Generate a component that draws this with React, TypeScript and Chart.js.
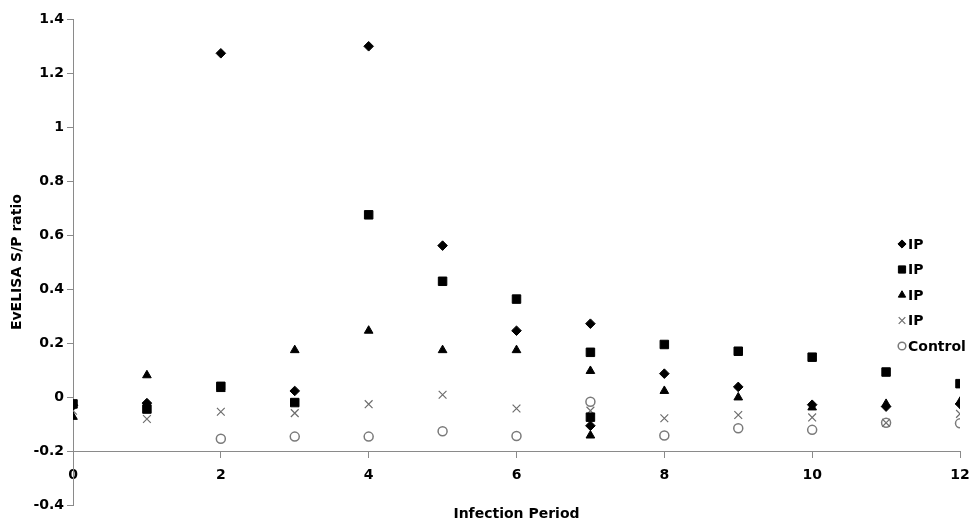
import React, { useEffect, useRef } from 'react';
import { Chart, registerables } from 'chart.js';
import { drawPoint } from 'chart.js/helpers';

Chart.register(...registerables);

// Infection period (days) and EvELISA S/P ratios
const days = [0, 1, 2, 3, 4, 5, 6, 7, 8, 9, 10, 11, 12];
const ip1Values = [-0.03, -0.022, 1.273, 0.023, 1.299, 0.561, 0.246, 0.272, 0.087, 0.038, -0.028, -0.035, -0.025];
const ip2Values = [-0.025, -0.044, 0.04, -0.02, 0.675, 0.429, 0.363, 0.166, 0.195, 0.17, 0.148, 0.093, 0.05];
const ip3Values = [-0.073, 0.081, 0.03, 0.174, 0.246, 0.174, 0.174, 0.097, 0.023, -0.001, -0.038, -0.025, -0.017];
const ip4Values = [-0.05, -0.081, -0.054, -0.059, -0.026, 0.009, -0.042, -0.05, -0.078, -0.066, -0.075, -0.095, -0.062];
const controlDays = [2, 3, 4, 5, 6, 7, 8, 9, 10, 11, 12];
const controlValues = [-0.154, -0.146, -0.146, -0.126, -0.144, -0.017, -0.142, -0.115, -0.121, -0.095, -0.097];

// second readings taken on day 7
const repeatDay = 7;
const ip1Repeat = -0.106;
const ip2Repeat = -0.074;
const ip3Repeat = -0.142;

const seriesLabels = ['IP', 'IP', 'IP', 'IP', 'Control'];
const xTickValues = [0, 2, 4, 6, 8, 10, 12];
const yTickValues = [-0.4, -0.2, 0, 0.2, 0.4, 0.6, 0.8, 1, 1.2, 1.4];

const FONT = '"DejaVu Sans", Verdana, sans-serif';
const FS = 14;

const toPoints = (xs: number[], ys: number[]) => xs.map((x, i) => ({ x, y: ys[i] }));

const legendPlugin = {
  id: 'sideLegend',
  afterDraw(chart: any) {
    const ctx = chart.ctx;
    const x0 = chart.width - 69;
    const y0 = chart.chartArea.top + 225;
    const gap = 25.5;
    ctx.save();
    ctx.font = `bold ${FS}px ${FONT}`;
    ctx.textBaseline = 'middle';
    ctx.textAlign = 'left';
    chart.data.datasets.forEach((ds: any, i: number) => {
      const y = y0 + i * gap;
      ctx.fillStyle = ds.backgroundColor;
      ctx.strokeStyle = ds.borderColor;
      ctx.lineWidth = ds.borderWidth;
      drawPoint(ctx, { pointStyle: ds.pointStyle, radius: ds.pointRadius * 0.85, borderWidth: ds.borderWidth, rotation: 0 }, x0, y);
      ctx.fillStyle = '#000';
      ctx.fillText(ds.label, x0 + 6, y + 1);
    });
    ctx.restore();
  },
};

export default function App() {
  const canvasRef = useRef<HTMLCanvasElement | null>(null);

  useEffect(() => {
    const canvas = canvasRef.current;
    if (!canvas) return;
    const ip1 = toPoints(days, ip1Values);
    ip1.push({ x: repeatDay, y: ip1Repeat });
    const ip2 = toPoints(days, ip2Values);
    ip2.push({ x: repeatDay, y: ip2Repeat });
    const ip3 = toPoints(days, ip3Values);
    ip3.push({ x: repeatDay, y: ip3Repeat });
    const ip4 = toPoints(days, ip4Values);
    const control = toPoints(controlDays, controlValues);

    const font = { family: FONT, size: FS, weight: 'bold' as const };

    const chart = new Chart(canvas, {
      type: 'scatter',
      data: {
        datasets: [
          { label: seriesLabels[0], data: ip1, pointStyle: 'rectRot', pointRadius: 4.8, backgroundColor: '#000', borderColor: '#000', borderWidth: 1 },
          { label: seriesLabels[1], data: ip2, pointStyle: 'rect', pointRadius: 6, backgroundColor: '#000', borderColor: '#000', borderWidth: 1 },
          { label: seriesLabels[2], data: ip3, pointStyle: 'triangle', pointRadius: 5, backgroundColor: '#000', borderColor: '#000', borderWidth: 1 },
          { label: seriesLabels[3], data: ip4, pointStyle: 'crossRot', pointRadius: 5.5, backgroundColor: '#6e6e6e', borderColor: '#6e6e6e', borderWidth: 1.2 },
          { label: seriesLabels[4], data: control, pointStyle: 'circle', pointRadius: 4.5, backgroundColor: '#fff', borderColor: '#7a7a7a', borderWidth: 1.5 },
        ],
      },
      options: {
        responsive: false,
        animation: false,
        layout: { padding: { top: 19, right: 11, left: 0, bottom: 0 } },
        plugins: {
          legend: { display: false },
          tooltip: { enabled: false },
        },
        scales: {
          x: {
            type: 'linear',
            position: { y: -0.2 } as any,
            min: 0,
            max: 12,
            afterBuildTicks: (scale: any) => {
              scale.ticks = xTickValues.map((v) => ({ value: v }));
            },
            afterFit: (scale: any) => {
              scale.paddingLeft = 0;
              scale.paddingRight = 0;
            },
            ticks: { color: '#000', font, padding: 10, maxRotation: 0 },
            grid: { drawOnChartArea: false, drawTicks: true, tickLength: 6, color: '#8a8a8a' },
            border: { color: '#8a8a8a', width: 1 },
          },
          xTitle: {
            type: 'linear',
            position: 'bottom',
            min: 0,
            max: 12,
            ticks: { display: false },
            grid: { display: false, drawTicks: false },
            border: { display: false },
            title: {
              display: true,
              text: 'Infection Period',
              color: '#000',
              font,
              padding: { top: 1, bottom: 3 },
            },
          },
          y: {
            type: 'linear',
            min: -0.4,
            max: 1.4,
            afterBuildTicks: (scale: any) => {
              scale.ticks = yTickValues.map((v) => ({ value: v }));
            },
            afterFit: (scale: any) => {
              scale.width = 73;
            },
            ticks: {
              color: '#000',
              font,
              padding: 3,
              callback: (v: any) => String(Math.round(Number(v) * 10) / 10),
            },
            grid: { drawOnChartArea: false, drawTicks: true, tickLength: 6, color: '#8a8a8a' },
            border: { color: '#8a8a8a', width: 1 },
            title: {
              display: true,
              text: 'EvELISA S/P ratio',
              color: '#000',
              font,
              padding: { top: 9, bottom: 0 },
            },
          },
        },
      },
      plugins: [legendPlugin],
    });
    return () => chart.destroy();
  }, []);

  return (
    <div style={{ position: 'fixed', left: 0, top: 0, width: 971, height: 526, background: '#fff' }}>
      <canvas ref={canvasRef} width={971} height={526} />
    </div>
  );
}
